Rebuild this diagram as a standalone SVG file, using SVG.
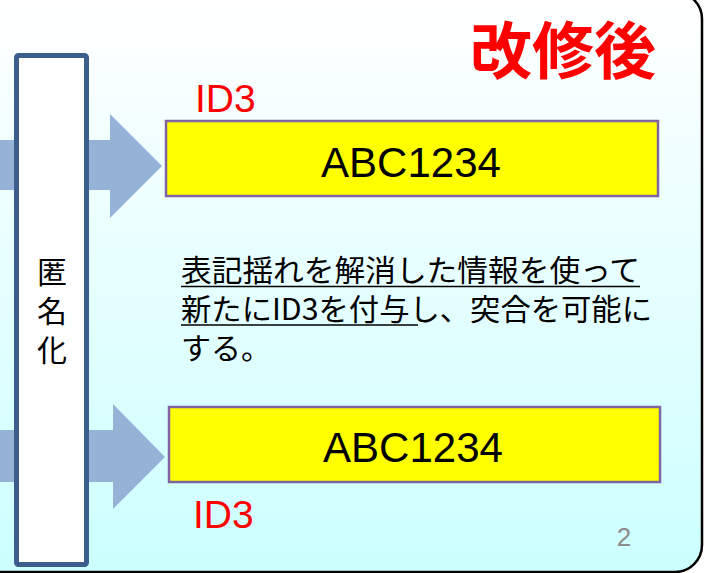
<svg xmlns="http://www.w3.org/2000/svg" width="709" height="573" viewBox="0 0 709 573">
<defs>
<linearGradient id="bg" x1="0" y1="0" x2="0" y2="573" gradientUnits="userSpaceOnUse">
<stop offset="0" stop-color="#ffffff"/>
<stop offset="1" stop-color="#ccffff"/>
</linearGradient>
<style>
.arrow{fill:#95b3d7}
.ybox{fill:#ffff00;stroke:#8064a2;stroke-width:2.5}
.code{font-family:"Liberation Sans",Arial,sans-serif;font-size:42px;fill:#000;text-anchor:middle}
.id{font-family:"Liberation Sans",Arial,sans-serif;font-size:39px;fill:#ff0000}
.jp{font-family:"Noto Sans CJK JP","Noto Sans",sans-serif;font-size:30px;fill:#000}
.ul{stroke:#000;stroke-width:1.6}
</style>
</defs>
<rect x="0" y="0" width="709" height="573" fill="#ffffff"/>
<rect x="-40" y="-8" width="742" height="580" rx="27" ry="27" fill="url(#bg)" stroke="#000" stroke-width="2.5"/>
<g id="connectors">
<polygon class="arrow" points="-10,140 110,140 110,114 162,166 110,218 110,190 -10,190"/>
<polygon class="arrow" points="-10,430 113,430 113,404 165,457 113,509 113,482 -10,482"/>
</g>
<g id="anonymize">
<rect x="16.5" y="55.5" width="70" height="509" rx="2" fill="#ffffff" stroke="#3b5e8c" stroke-width="5"/>
<text class="jp" x="52" y="283" font-size="32" text-anchor="middle">匿</text>
<text class="jp" x="52" y="322" font-size="32" text-anchor="middle">名</text>
<text class="jp" x="52" y="361" font-size="32" text-anchor="middle">化</text>
</g>
<g id="title">
<text x="563" y="74" font-family="'Noto Sans CJK JP',sans-serif" font-weight="bold" font-size="62" fill="#ff0000" text-anchor="middle">改修後</text>
</g>
<g id="id3-top">
<text class="id" x="195" y="112">ID3</text>
</g>
<g id="box-top">
<rect class="ybox" x="166" y="121" width="492" height="75"/>
<text class="code" x="411" y="177">ABC1234</text>
</g>
<g id="note">
<text class="jp" x="181" y="281" textLength="459" lengthAdjust="spacingAndGlyphs">表記揺れを解消した情報を使って</text>
<text class="jp" x="181" y="320" textLength="471" lengthAdjust="spacingAndGlyphs">新たにID3を付与し、突合を可能に</text>
<text class="jp" x="181" y="359">する。</text>
<line class="ul" x1="181" y1="286.5" x2="640" y2="286.5"/>
<line class="ul" x1="181" y1="325" x2="418" y2="325"/>
</g>
<g id="box-bottom">
<rect class="ybox" x="169" y="407" width="491" height="75"/>
<text class="code" x="413" y="462">ABC1234</text>
</g>
<g id="id3-bottom">
<text class="id" x="193" y="528">ID3</text>
</g>
<text x="624" y="546" font-family="'Liberation Sans',Arial,sans-serif" font-size="26" fill="#8c8c8c" text-anchor="middle">2</text>
</svg>
